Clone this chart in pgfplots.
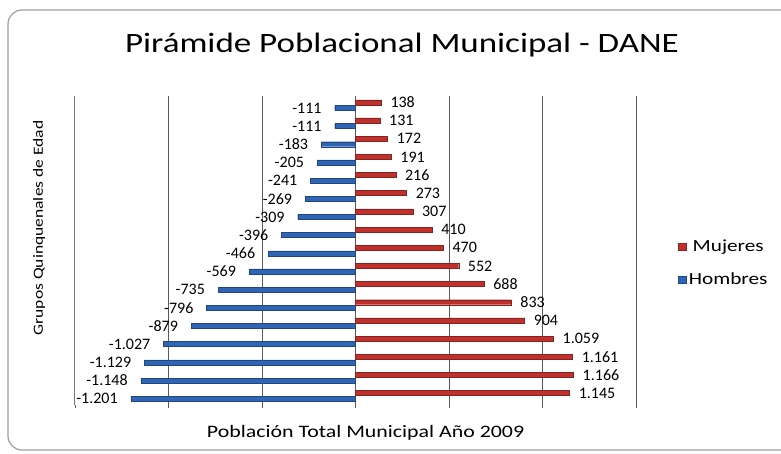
\documentclass[border=0pt]{standalone}
\usepackage{pgfplots}
\pgfplotsset{compat=1.18}
\usepackage{fontspec}
\setmainfont{Carlito}[FakeStretch=1.25]
\newfontfamily\numfont{Carlito}
\definecolor{mujer}{RGB}{192,48,44}
\definecolor{hombre}{RGB}{48,100,180}
\begin{document}
\begin{tikzpicture}
\useasboundingbox (0pt,0pt) rectangle (781pt,453pt);
\begin{scope}
\clip (0pt,0pt) rectangle (781pt,453pt);
\draw[gray!75, line width=1.2pt, rounded corners=14pt] (8pt,3pt) rectangle (800pt,443pt);
\end{scope}
\node[font=\fontsize{28}{31}\selectfont] at (402pt,408pt) {Pirámide Poblacional Municipal - DANE};
\begin{axis}[
  at={(75pt,48pt)}, anchor=south west,
  scale only axis, width=561pt, height=309pt,
  xbar, bar width=5pt,
  xmin=-1500, xmax=1500, ymin=0.5, ymax=17.5,
  xtick={-1500,-1000,...,1500}, xticklabels={}, ytick=\empty,
  xmajorgrids, grid style={black!65, line width=0.8pt},
  axis x line*=bottom, axis y line*=left,
  x axis line style={draw=none, -},
  y axis line style={black!55, double, line width=0.5pt, -},
  tick style={black!65, line width=0.8pt}, xtick align=outside, major tick length=3pt,
  xlabel={Población Total Municipal Año 2009},
  ylabel={Grupos Quinquenales de Edad},
  xlabel style={font=\fontsize{17.5}{20}\selectfont, at={(axis description cs:0.518,0)}, anchor=center, yshift=-28pt},
  ylabel style={font=\fontsize{14}{17}\selectfont, at={(axis description cs:-0.064,0.573)}, anchor=center},
  /pgf/number format/.cd, 1000 sep={.}, assume math mode=true, /pgfplots/.cd,
  nodes near coords,
  nodes near coords style={font=\numfont\fontsize{16}{18}\selectfont, inner sep=1pt},
  legend style={at={(axis description cs:1.07,0.46)}, anchor=west, draw=none, fill=none,
    font=\fontsize{17}{20}\selectfont, row sep=16pt},
  legend image code/.code={\draw[#1] (0pt,-3.5pt) rectangle (8pt,3.5pt);},
]
\addplot[fill=mujer, draw=mujer!70!black, bar shift=2.8pt,
  nodes near coords style={anchor=west, xshift=8pt}] coordinates {
  (1145,1) (1166,2) (1161,3) (1059,4) (904,5) (833,6) (688,7) (552,8) (470,9)
  (410,10) (307,11) (273,12) (216,13) (191,14) (172,15) (131,16) (138,17)};
\addplot[fill=hombre, draw=hombre!70!black, bar shift=-2.8pt,
  nodes near coords style={anchor=east, xshift=-12pt}] coordinates {
  (-1201,1) (-1148,2) (-1129,3) (-1027,4) (-879,5) (-796,6) (-735,7) (-569,8) (-466,9)
  (-396,10) (-309,11) (-269,12) (-241,13) (-205,14) (-183,15) (-111,16) (-111,17)};
\legend{Mujeres, Hombres}
\end{axis}
\end{tikzpicture}
\end{document}
